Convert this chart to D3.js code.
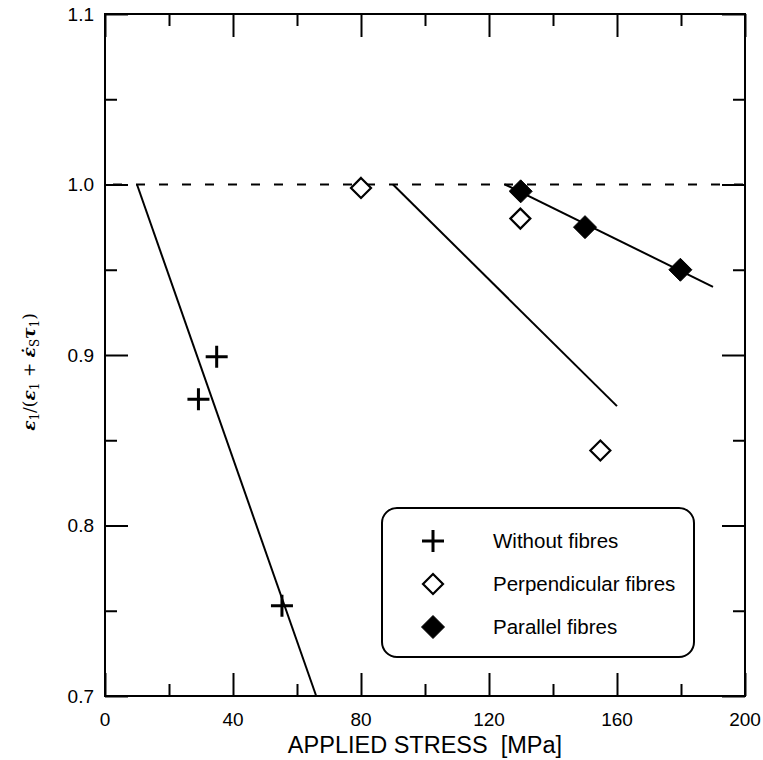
<!DOCTYPE html>
<html>
<head>
<meta charset="utf-8">
<script src="https://cdn.jsdelivr.net/npm/d3@7"></script>
<style>
  body { margin: 0; background: #fff; }
  svg { display: block; }
</style>
</head>
<body>
<div id="vis"></div>
<script>
// data
const withoutFibres = [
  { stress: 29.2, ratio: 0.874 },
  { stress: 34.9, ratio: 0.899 },
  { stress: 55.3, ratio: 0.753 }
]
const perpendicularFibres = [
  { stress: 80, ratio: 0.998 },
  { stress: 129.8, ratio: 0.980 },
  { stress: 154.8, ratio: 0.844 }
]
const parallelFibres = [
  { stress: 129.9, ratio: 0.996 },
  { stress: 150, ratio: 0.975 },
  { stress: 179.8, ratio: 0.950 }
]
// fitted lines (end points)
const withoutFit = [{ stress: 10, ratio: 1.0 }, { stress: 66, ratio: 0.7 }]
const perpendicularFit = [{ stress: 90, ratio: 1.0 }, { stress: 160, ratio: 0.87 }]
const parallelFit = [{ stress: 125, ratio: 1.0 }, { stress: 190, ratio: 0.94 }]
const referenceLevel = 1.0

const xMajorTicks = [0, 40, 80, 120, 160, 200]
const xMinorTicks = [20, 60, 100, 140, 180]
const yMajorTicks = [0.7, 0.8, 0.9, 1.0, 1.1]
const yMinorTicks = [0.75, 0.85, 0.95, 1.05]
const legendLabels = ["Without fibres", "Perpendicular fibres", "Parallel fibres"]

const width = 763
const height = 760
const margin = { top: 14, right: 18, bottom: 64, left: 105 }

const svg = d3.select("#vis").append("svg")
  .attr("width", width)
  .attr("height", height)
  .attr("font-family", "'Liberation Sans', Arial, sans-serif")

const x = d3.scaleLinear()
  .domain([0, 200])
  .range([margin.left, width - margin.right])

const y = d3.scaleLinear()
  .domain([0.7, 1.1])
  .range([height - margin.bottom, margin.top])

const majorLen = 23
const minorLen = 12

// ticks on all four sides, pointing inward
const tickAxis = (axis, vals, len) => axis.tickValues(vals).tickSizeInner(-len).tickSizeOuter(0).tickFormat("")

const styleTicks = g => {
  g.select(".domain").remove()
  g.selectAll(".tick line").attr("stroke", "#000").attr("stroke-width", 2)
}

svg.append("g").attr("transform", `translate(0,${y(0.7)})`)
  .call(tickAxis(d3.axisBottom(x), xMajorTicks, majorLen)).call(styleTicks)
svg.append("g").attr("transform", `translate(0,${y(0.7)})`)
  .call(tickAxis(d3.axisBottom(x), xMinorTicks, minorLen)).call(styleTicks)
svg.append("g").attr("transform", `translate(0,${y(1.1)})`)
  .call(tickAxis(d3.axisTop(x), xMajorTicks, majorLen)).call(styleTicks)
svg.append("g").attr("transform", `translate(0,${y(1.1)})`)
  .call(tickAxis(d3.axisTop(x), xMinorTicks, minorLen)).call(styleTicks)
svg.append("g").attr("transform", `translate(${x(0)},0)`)
  .call(tickAxis(d3.axisLeft(y), yMajorTicks, majorLen)).call(styleTicks)
svg.append("g").attr("transform", `translate(${x(0)},0)`)
  .call(tickAxis(d3.axisLeft(y), yMinorTicks, minorLen)).call(styleTicks)
svg.append("g").attr("transform", `translate(${x(200)},0)`)
  .call(tickAxis(d3.axisRight(y), yMajorTicks, majorLen)).call(styleTicks)
svg.append("g").attr("transform", `translate(${x(200)},0)`)
  .call(tickAxis(d3.axisRight(y), yMinorTicks, minorLen)).call(styleTicks)

// frame
svg.append("rect")
  .attr("x", x(0))
  .attr("y", y(1.1))
  .attr("width", x(200) - x(0))
  .attr("height", y(0.7) - y(1.1))
  .attr("fill", "none")
  .attr("stroke", "#000")
  .attr("stroke-width", 2)

// tick labels
svg.append("g")
  .selectAll("text")
  .data(xMajorTicks)
  .join("text")
  .attr("x", d => x(d))
  .attr("y", y(0.7) + 30)
  .attr("text-anchor", "middle")
  .attr("font-size", 19)
  .text(d => d)

svg.append("g")
  .selectAll("text")
  .data(yMajorTicks)
  .join("text")
  .attr("x", x(0) - 11)
  .attr("y", d => y(d))
  .attr("dy", "0.35em")
  .attr("text-anchor", "end")
  .attr("font-size", 19)
  .text(d => d3.format(".1f")(d))

// axis titles
svg.append("text")
  .attr("x", (x(0) + x(200)) / 2)
  .attr("y", 753)
  .attr("text-anchor", "middle")
  .attr("font-size", 23.5)
  .attr("xml:space", "preserve")
  .text("APPLIED STRESS  [MPa]")

const yTitle = svg.append("text")
  .attr("transform", `translate(35,${(y(0.7) + y(1.1)) / 2 + 17}) rotate(-90)`)
  .attr("text-anchor", "middle")
  .attr("font-family", "'DejaVu Serif', 'Liberation Serif', serif")
  .attr("font-size", 17)
  .attr("xml:space", "preserve")

const yParts = [
  { t: "ε", it: true },
  { t: "1", sub: true },
  { t: "/(" },
  { t: "ε", it: true },
  { t: "1", sub: true },
  { t: " + " },
  { t: "ε\u0307", it: true },
  { t: "S", sub: true },
  { t: "τ", it: true },
  { t: "1", sub: true },
  { t: ")" }
]
let shifted = false
yParts.forEach(p => {
  const ts = yTitle.append("tspan").text(p.t)
  if (p.it) ts.attr("font-style", "italic").attr("font-weight", "bold")
  if (p.sub) {
    ts.attr("font-size", 12).attr("dy", shifted ? 0 : 4)
    shifted = true
  } else if (shifted) {
    ts.attr("dy", -4)
    shifted = false
  }
})

// reference line at 1.0
svg.append("line")
  .attr("x1", x(0))
  .attr("x2", x(200))
  .attr("y1", y(referenceLevel))
  .attr("y2", y(referenceLevel))
  .attr("stroke", "#000")
  .attr("stroke-width", 2)
  .attr("stroke-dasharray", "9,14")
  .attr("stroke-dashoffset", -8)

// fitted lines
const line = d3.line().x(d => x(d.stress)).y(d => y(d.ratio))
;[withoutFit, perpendicularFit, parallelFit].forEach(fit => {
  svg.append("path")
    .attr("d", line(fit))
    .attr("fill", "none")
    .attr("stroke", "#000")
    .attr("stroke-width", 2)
})

// markers
const crossPath = "M-11,0L11,0M0,-11L0,11"
const diamondPath = r => `M0,${-r}L${r},0L0,${r}L${-r},0Z`

const drawCross = (g, px, py) => g.append("path")
  .attr("d", crossPath)
  .attr("transform", `translate(${px},${py})`)
  .attr("fill", "none")
  .attr("stroke", "#000")
  .attr("stroke-width", 3)

const drawOpen = (g, px, py) => g.append("path")
  .attr("d", diamondPath(10))
  .attr("transform", `translate(${px},${py})`)
  .attr("fill", "#fff")
  .attr("stroke", "#000")
  .attr("stroke-width", 2.2)

const drawFilled = (g, px, py) => g.append("path")
  .attr("d", diamondPath(11.5))
  .attr("transform", `translate(${px},${py})`)
  .attr("fill", "#000")
  .attr("stroke", "#000")
  .attr("stroke-width", 1)

const marks = svg.append("g")
withoutFibres.forEach(d => drawCross(marks, x(d.stress), y(d.ratio)))
perpendicularFibres.forEach(d => drawOpen(marks, x(d.stress), y(d.ratio)))
parallelFibres.forEach(d => drawFilled(marks, x(d.stress), y(d.ratio)))

// legend
const legend = svg.append("g")
legend.append("rect")
  .attr("x", 382)
  .attr("y", 508)
  .attr("width", 312)
  .attr("height", 149)
  .attr("rx", 15)
  .attr("fill", "#fff")
  .attr("stroke", "#000")
  .attr("stroke-width", 2)

const legendDrawers = [drawCross, drawOpen, drawFilled]
legendLabels.forEach((label, i) => {
  const cy = 541 + i * 43
  legendDrawers[i](legend, 433, cy)
  legend.append("text")
    .attr("x", 493)
    .attr("y", cy)
    .attr("dy", "0.35em")
    .attr("font-size", 20.5)
    .text(label)
})
</script>
</body>
</html>
